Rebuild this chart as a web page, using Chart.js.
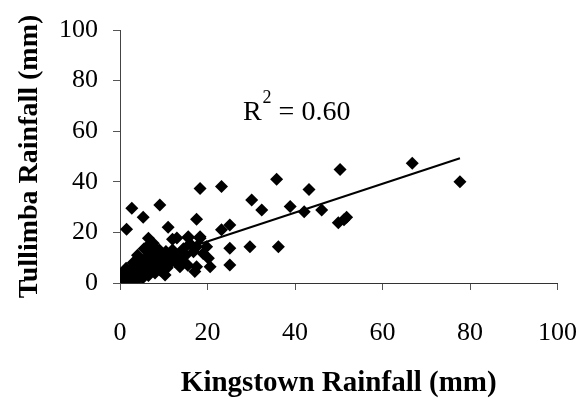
<!DOCTYPE html>
<html>
<head>
<meta charset="utf-8">
<script src="https://cdn.jsdelivr.net/npm/chart.js@4.4.0/dist/chart.umd.min.js"></script>
<style>
  html, body { margin: 0; padding: 0; background: #fff; }
  #wrap { width: 582px; height: 403px; }
</style>
</head>
<body>
<div id="wrap"><canvas id="rainChart" width="582" height="403"></canvas></div>
<script>
// Kingstown (x) vs Tullimba (y) daily rainfall, mm
const kingstown = [
  1.5, 2.7, 5.3, 9.1, 11.0, 6.5, 7.6, 12.0, 15.6, 17.5, 18.3, 18.3, 23.2, 23.2, 25.1,
  25.1, 25.1, 29.7, 30.1, 32.4, 35.8, 36.2, 38.9, 42.1, 43.2, 46.1, 50.3, 49.9, 51.2, 51.8,
  66.8, 77.7,
  13.0, 15.6, 18.3, 17.5, 16.8, 19.0, 20.2, 20.6, 17.5, 13.7, 12.6, 19.8, 17.1, 10.3, 13.6,
  14.5, 15.0, 16.0, 14.0, 15.5, 12.5,
  0.2, 0.5, 0.8, 1.0, 1.2, 1.5, 1.8, 2.0, 2.2, 2.5, 2.8, 3.0, 3.2, 3.5, 3.8, 4.0, 4.2,
  4.5, 4.8, 5.0, 5.2, 5.5, 5.8, 6.0, 6.2, 6.5, 6.8, 7.0, 7.2, 7.5, 7.8, 8.0, 8.2, 8.5,
  8.8, 9.0, 9.2, 9.5, 9.8, 10.0, 10.5, 10.8, 11.0, 11.5, 12.0, 12.2, 3.0, 4.0, 5.5, 6.0,
  7.5, 8.5, 0.3, 1.0, 2.0, 0.6, 1.4, 2.4, 3.4, 0.9
];
const tullimba = [
  21.2, 29.5, 26.0, 30.8, 22.0, 17.7, 15.7, 17.3, 18.3, 25.2, 18.3, 37.4, 38.1, 21.0, 22.9,
  13.7, 7.1, 14.3, 32.8, 28.9, 41.0, 14.3, 30.2, 28.2, 37.0, 28.9, 44.9, 23.8, 25.0, 26.0,
  47.3, 40.0,
  17.8, 17.9, 17.7, 14.3, 12.4, 11.7, 9.8, 6.4, 6.4, 6.4, 8.4, 14.3, 4.5, 3.2, 11.7,
  13.5, 11.0, 15.5, 9.0, 7.0, 11.0,
  1.5, 2.5, 1.0, 3.5, 0.8, 2.0, 4.5, 1.2, 3.0, 5.5, 2.0, 0.8, 4.0, 6.5, 2.8, 1.5, 5.0,
  7.5, 3.5, 9.0, 2.0, 6.0, 4.5, 10.0, 8.0, 3.0, 11.0, 5.5, 7.0, 9.5, 12.0, 4.0, 6.5,
  10.5, 8.0, 13.0, 5.0, 11.5, 7.0, 9.0, 12.5, 6.0, 10.0, 8.0, 13.0, 11.0, 8.0, 11.0, 13.5,
  14.0, 14.5, 13.0, 0.5, 0.3, 0.6, 4.0, 5.8, 1.0, 0.4, 2.2
];
const xTicks = [0, 20, 40, 60, 80, 100];
const yTicks = [0, 20, 40, 60, 80, 100];
const trendSlope = 0.57;
const trendIntercept = 5.0;
const rSquared = '0.60';

const points = kingstown.map((x, i) => ({ x: x, y: tullimba[i] }));
const xMin = Math.min(...kingstown);
const xMax = Math.max(...kingstown);
const trend = [
  { x: xMin, y: trendIntercept + trendSlope * xMin },
  { x: xMax, y: trendIntercept + trendSlope * xMax }
];

const serif = 'Liberation Serif';

// R^2 text, anchored in data units so it sits in the same place as the original
const rLabel = {
  id: 'rLabel',
  afterDraw(chart) {
    const ctx = chart.ctx;
    const x = chart.scales.x.getPixelForValue(28.1);
    const y = chart.scales.y.getPixelForValue(64.4);
    ctx.save();
    ctx.fillStyle = '#000';
    ctx.textBaseline = 'alphabetic';
    ctx.textAlign = 'left';
    ctx.font = '28px "' + serif + '"';
    ctx.fillText('R', x, y);
    let cx = x + ctx.measureText('R').width + 1;
    ctx.font = '18px "' + serif + '"';
    ctx.fillText('2', cx, y - 17);
    cx += ctx.measureText('2').width;
    ctx.font = '28px "' + serif + '"';
    ctx.fillText(' = ' + rSquared, cx, y);
    ctx.restore();
  }
};

new Chart(document.getElementById('rainChart'), {
  type: 'scatter',
  data: {
    datasets: [
      {
        label: 'Daily rainfall',
        data: points,
        pointStyle: 'rectRot',
        pointRadius: 6.5,
        pointBackgroundColor: '#000',
        pointBorderColor: '#000',
        pointBorderWidth: 0,
        order: 2
      },
      {
        type: 'line',
        label: 'Trend',
        data: trend,
        borderColor: '#000',
        borderWidth: 2,
        pointRadius: 0,
        fill: false,
        order: 1
      }
    ]
  },
  options: {
    responsive: false,
    animation: false,
    layout: { padding: { top: 30, right: 24.5, left: 0, bottom: 0 } },
    plugins: { legend: { display: false }, tooltip: { enabled: false } },
    scales: {
      x: {
        type: 'linear',
        min: 0,
        max: 100,
        afterBuildTicks: (s) => { s.ticks = xTicks.map(v => ({ value: v })); },
        afterFit: (s) => { s.height = 120; s.paddingLeft = 0; s.paddingRight = 0; },
        grid: { drawOnChartArea: false, drawTicks: true, tickLength: 7, color: '#555' },
        border: { display: true, color: '#333', width: 1 },
        ticks: { color: '#000', padding: 28, font: { family: serif, size: 26 } },
        title: {
          display: true,
          text: 'Kingstown Rainfall (mm)',
          color: '#000',
          padding: { top: 0, bottom: 2 },
          font: { family: serif, size: 29, weight: 'bold' }
        }
      },
      y: {
        type: 'linear',
        min: 0,
        max: 100,
        afterBuildTicks: (s) => { s.ticks = yTicks.map(v => ({ value: v })); },
        afterFit: (s) => { s.width = 120; s.paddingTop = 0; s.paddingBottom = 0; },
        grid: { drawOnChartArea: false, drawTicks: true, tickLength: 7, color: '#555' },
        border: { display: true, color: '#444', width: 1 },
        ticks: { color: '#000', padding: 15, font: { family: serif, size: 26 } },
        title: {
          display: true,
          text: 'Tullimba Rainfall (mm)',
          color: '#000',
          padding: { top: 13, bottom: 0 },
          font: { family: serif, size: 28, weight: 'bold' }
        }
      }
    }
  },
  plugins: [rLabel]
});
</script>
</body>
</html>
